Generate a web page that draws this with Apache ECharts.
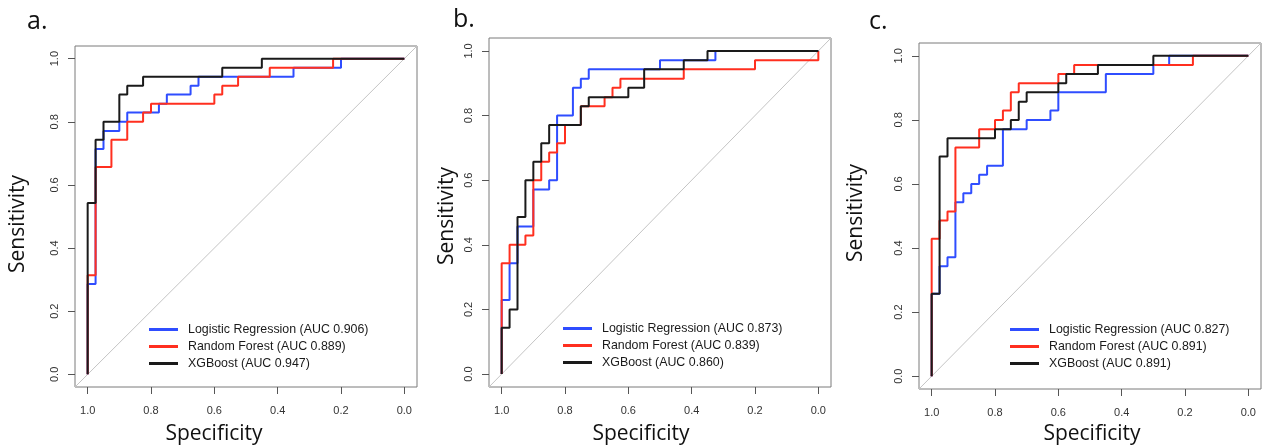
<!DOCTYPE html>
<html>
<head>
<meta charset="utf-8">
<script src="https://cdn.jsdelivr.net/npm/echarts@6/dist/echarts.min.js"></script>
<style>
html,body{margin:0;padding:0;background:#fff;}
#chart{width:1263px;height:446px;}
</style>
</head>
<body>
<div id="chart"></div>
<script>
// ---- Data (ROC operating points: specificity, sensitivity) ----
const tickValues = [0, 0.2, 0.4, 0.6, 0.8, 1.0];
const panelLabels = ['a.', 'b.', 'c.'];
const modelNames = ['Logistic Regression', 'Random Forest', 'XGBoost'];
const aucA = ['0.906', '0.889', '0.947'];
const aucB = ['0.873', '0.839', '0.860'];
const aucC = ['0.827', '0.891', '0.891'];

// Panel a
const aLRspec = [1.0, 1.0, 0.975, 0.95, 0.9, 0.875, 0.775, 0.75, 0.675, 0.65, 0.35, 0.2, 0.0];
const aLRsens = [0, 0.286, 0.714, 0.771, 0.8, 0.829, 0.857, 0.886, 0.914, 0.943, 0.971, 1.0, 1.0];
const aRFspec = [1.0, 1.0, 0.975, 0.925, 0.875, 0.825, 0.8, 0.6, 0.575, 0.525, 0.425, 0.225, 0.0];
const aRFsens = [0, 0.314, 0.657, 0.743, 0.8, 0.829, 0.857, 0.886, 0.914, 0.943, 0.971, 1.0, 1.0];
const aXGspec = [1.0, 1.0, 0.975, 0.95, 0.9, 0.875, 0.825, 0.575, 0.45, 0.0];
const aXGsens = [0, 0.543, 0.743, 0.8, 0.886, 0.914, 0.943, 0.971, 1.0, 1.0];

// Panel b
const bLRspec = [1.0, 1.0, 0.975, 0.95, 0.9, 0.85, 0.825, 0.775, 0.75, 0.725, 0.5, 0.325, 0.0];
const bLRsens = [0, 0.229, 0.343, 0.457, 0.571, 0.6, 0.8, 0.886, 0.914, 0.943, 0.971, 1.0, 1.0];
const bRFspec = [1.0, 1.0, 0.975, 0.925, 0.9, 0.875, 0.85, 0.825, 0.8, 0.75, 0.675, 0.65, 0.625, 0.425, 0.2, 0.0];
const bRFsens = [0, 0.343, 0.4, 0.429, 0.6, 0.657, 0.686, 0.714, 0.771, 0.829, 0.857, 0.886, 0.914, 0.943, 0.971, 1.0];
const bXGspec = [1.0, 1.0, 0.975, 0.95, 0.925, 0.9, 0.875, 0.85, 0.75, 0.725, 0.6, 0.55, 0.425, 0.35, 0.0];
const bXGsens = [0, 0.143, 0.2, 0.486, 0.6, 0.657, 0.714, 0.771, 0.829, 0.857, 0.886, 0.943, 0.971, 1.0, 1.0];

// Panel c
const cLRspec = [1.0, 1.0, 0.975, 0.95, 0.925, 0.9, 0.875, 0.85, 0.825, 0.775, 0.7, 0.625, 0.6, 0.45, 0.3, 0.25, 0.0];
const cLRsens = [0, 0.257, 0.343, 0.371, 0.543, 0.571, 0.6, 0.629, 0.657, 0.771, 0.8, 0.829, 0.886, 0.943, 0.971, 1.0, 1.0];
const cRFspec = [1.0, 1.0, 0.975, 0.95, 0.925, 0.85, 0.8, 0.775, 0.75, 0.725, 0.6, 0.55, 0.175, 0.0];
const cRFsens = [0, 0.429, 0.486, 0.514, 0.714, 0.771, 0.8, 0.829, 0.886, 0.914, 0.943, 0.971, 1.0, 1.0];
const cXGspec = [1.0, 1.0, 0.975, 0.95, 0.8, 0.75, 0.725, 0.7, 0.6, 0.575, 0.475, 0.3, 0.0];
const cXGsens = [0, 0.257, 0.686, 0.743, 0.771, 0.8, 0.857, 0.886, 0.914, 0.943, 0.971, 1.0, 1.0];

const diagSpec = [1.04, -0.04];
const diagSens = [-0.04, 1.04];

// ---- Layout / style ----
const colors = ['#2f4dff', '#ff2f1f', '#1a1a1a'];
const grids = [
  {left: 75, top: 46, width: 342, height: 341},
  {left: 489, top: 38, width: 342, height: 349},
  {left: 919, top: 43, width: 342, height: 346}
];
const legendPos = [
  {left: 149, top: 323},
  {left: 563, top: 322},
  {left: 1010, top: 323}
];
const panels = [
  {auc: aucA, curves: [[aLRspec, aLRsens], [aRFspec, aRFsens], [aXGspec, aXGsens]]},
  {auc: aucB, curves: [[bLRspec, bLRsens], [bRFspec, bRFsens], [bXGspec, bXGsens]]},
  {auc: aucC, curves: [[cLRspec, cLRsens], [cRFspec, cRFsens], [cXGspec, cXGsens]]}
];
const zip = (xs, ys) => xs.map((x, i) => [x, ys[i]]);
const fmt = v => v.toFixed(1);

const option = {
  animation: false,
  backgroundColor: '#fff',
  grid: grids.map(g => Object.assign({show: true, borderColor: '#7a7a7a', borderWidth: 1, backgroundColor: 'transparent'}, g)),
  xAxis: grids.map((g, i) => ({
    gridIndex: i, type: 'value', inverse: true, min: -0.04, max: 1.04,
    axisLine: {show: false, onZero: false},
    splitLine: {show: false},
    axisTick: {show: true, length: 7, customValues: tickValues, lineStyle: {color: '#555', width: 1}},
    axisLabel: {customValues: tickValues, formatter: fmt, margin: 18, fontFamily: 'Liberation Sans', fontSize: 11, color: '#333'}
  })),
  yAxis: grids.map((g, i) => ({
    gridIndex: i, type: 'value', min: -0.04, max: 1.04,
    axisLine: {show: false, onZero: false},
    splitLine: {show: false},
    axisTick: {show: true, length: 7, customValues: tickValues, lineStyle: {color: '#555', width: 1}},
    axisLabel: {customValues: tickValues, formatter: fmt, rotate: 90, margin: 15, fontFamily: 'Liberation Sans', fontSize: 11, color: '#333'}
  })),
  legend: panels.map((p, i) => ({
    left: legendPos[i].left, top: legendPos[i].top, orient: 'vertical',
    icon: 'rect', itemWidth: 29, itemHeight: 3, itemGap: 4, padding: 0,
    selectedMode: false,
    textStyle: {fontFamily: 'Liberation Sans', fontSize: 12.4, color: '#1a1a1a', lineHeight: 13, padding: [0, 0, 0, 5]},
    data: modelNames.map((m, k) => m + ' (AUC ' + p.auc[k] + ')')
  })),
  series: [],
  graphic: []
};

panels.forEach((p, i) => {
  option.series.push({
    type: 'line', xAxisIndex: i, yAxisIndex: i, data: zip(diagSpec, diagSens),
    symbol: 'none', silent: true, lineStyle: {color: '#c4c4c4', width: 1}, z: 1
  });
  p.curves.forEach((c, k) => {
    option.series.push({
      name: modelNames[k] + ' (AUC ' + p.auc[k] + ')',
      type: 'line', xAxisIndex: i, yAxisIndex: i,
      data: zip(c[0], c[1]), step: 'end',
      symbol: 'none', color: colors[k],
      lineStyle: {color: colors[k], width: 2}, z: 2 + k
    });
  });
});

const labelPos = [[27, 24], [453, 22], [869, 24]];
const ySpec = [[18, 224], [447, 216], [856, 213]];
const xSpec = [[214, 434], [641, 434], [1092, 434]];
const titleFont = {fontFamily: 'Open Sans', fontSize: 21, fill: '#111'};
panelLabels.forEach((t, i) => {
  option.graphic.push({type: 'text', left: labelPos[i][0], top: labelPos[i][1] - 15,
    style: {text: t, fontFamily: 'Open Sans', fontSize: 25, fill: '#111'}});
  option.graphic.push({type: 'text', x: ySpec[i][0], y: ySpec[i][1], rotation: Math.PI / 2,
    style: Object.assign({text: 'Sensitivity', textAlign: 'center', textVerticalAlign: 'middle'}, titleFont)});
  option.graphic.push({type: 'text', x: xSpec[i][0], y: xSpec[i][1],
    style: Object.assign({text: 'Specificity', textAlign: 'center', textVerticalAlign: 'middle'}, titleFont)});
});

const chart = echarts.init(document.getElementById('chart'), null, {renderer: 'canvas'});
chart.setOption(option);
</script>
</body>
</html>
